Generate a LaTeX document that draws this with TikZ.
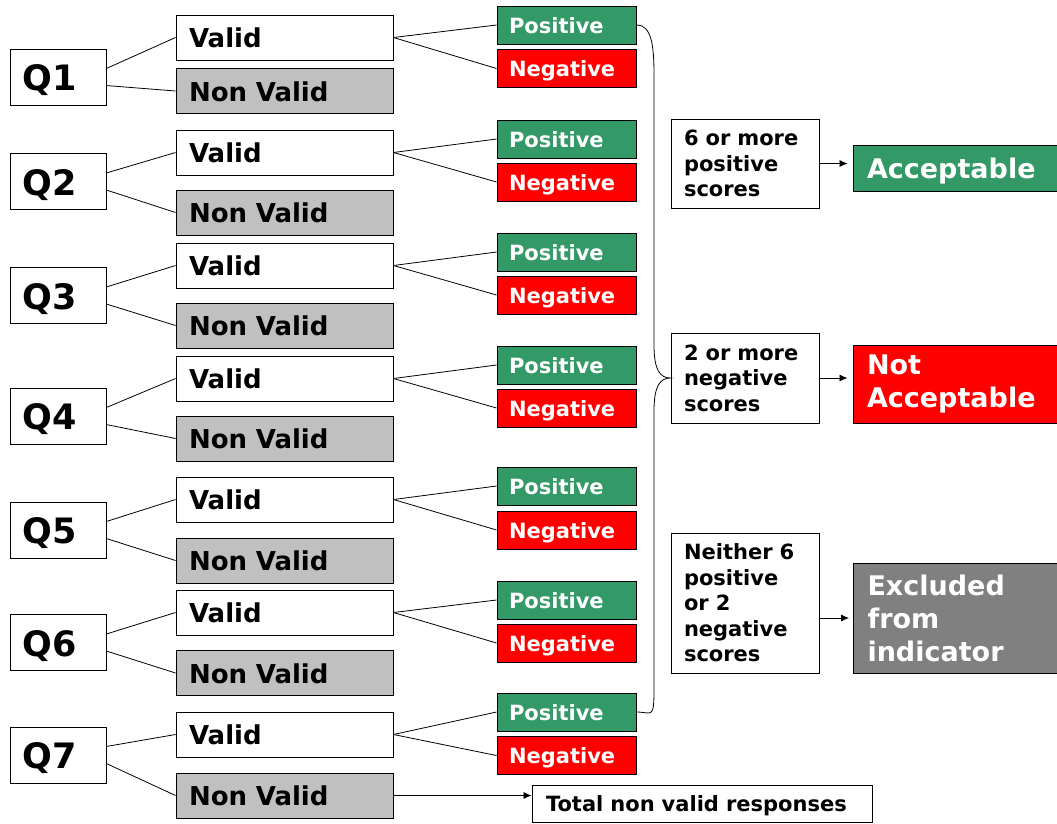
\documentclass[tikz,border=0pt]{standalone}
\usepackage{fontspec}
\setmainfont{DejaVu Sans}
\usetikzlibrary{arrows.meta}
\definecolor{posgreen}{RGB}{51,153,102}
\definecolor{nvgray}{RGB}{192,192,192}
\definecolor{exgray}{RGB}{128,128,128}

\begin{document}
\begin{tikzpicture}[x=1pt, y=-1pt, line width=0.9pt,
  every node/.style={draw, align=left, inner ysep=0pt, font=\bfseries},
  qbox/.style={text height=31pt, text depth=4pt, text width=70pt, inner xsep=13pt, minimum height=56pt, font=\bfseries\fontsize{35}{40}\selectfont},
  vbox/.style={text height=23pt, text depth=2.6pt, text width=191pt, inner xsep=13pt, minimum height=45pt, font=\bfseries\fontsize{26}{30}\selectfont},
  nvbox/.style={vbox, fill=nvgray},
  posbox/.style={text height=18.5pt, text depth=2pt, text width=115pt, inner xsep=12pt, minimum height=38pt, fill=posgreen, text=white, font=\bfseries\fontsize{21}{25}\selectfont},
  negbox/.style={posbox, fill=red},
  rulebox/.style={text width=122pt, inner xsep=13pt, font=\bfseries\fontsize{21}{25.5}\selectfont},
  outbox/.style={text width=178pt, inner xsep=14pt, text=white, font=\bfseries\fontsize{27}{33}\selectfont},
  totbox/.style={text height=18.5pt, text depth=2pt, text width=312pt, inner xsep=14pt, minimum height=37pt, font=\bfseries\fontsize{21}{25}\selectfont},
  link/.style={line width=0.8pt},
  res/.style={-{Latex[length=8pt,width=7pt]}, line width=0.8pt}]
  \useasboundingbox (0,0) rectangle (1057,823);

  % one row per question: Q, valid / non valid, positive / negative
  \foreach \i/\q/\v/\n/\p/\m in {1/77/37.5/91/25/68.5, 2/181.5/152.5/212.5/139/182,
      3/295.5/265.5/325.5/252/295, 4/416/378.5/438.5/365/408, 5/530/499.5/560.5/486/530,
      6/642.5/612.5/673/600/643, 7/755/734.5/795.5/712/755.5} {
    \node[qbox] (Q\i) at (58,\q) {Q\i};
    \node[vbox] (V\i) at (284.5,\v) {Valid};
    \node[nvbox] (N\i) at (284.5,\n) {Non Valid};
    \node[posbox] (P\i) at (566.5,\p) {Positive};
    \node[negbox] (M\i) at (566.5,\m) {Negative};
    \draw[link] (Q\i.10) -- (V\i.west);
    \draw[link] (Q\i.-10) -- (N\i.west);
    \draw[link] (V\i.east) -- (P\i.west);
    \draw[link] (V\i.east) -- (M\i.west);
  }

  % scoring rules and results
  \node[rulebox, minimum height=89pt] (six) at (745,163.5) {6 or more\\positive\\scores};
  \node[rulebox, minimum height=90pt] (two) at (745,378) {2 or more\\negative\\scores};
  \node[rulebox, minimum height=140pt] (nei) at (745,603) {Neither 6\\positive\\or 2\\negative\\scores};
  \node[outbox, text height=24pt, text depth=3pt, fill=posgreen, minimum height=46pt] (acc) at (956,168) {Acceptable};
  \node[outbox, fill=red, minimum height=78pt] (nacc) at (956,384) {Not\\Acceptable};
  \node[outbox, fill=exgray, minimum height=110pt] (exc) at (956.5,618) {Excluded\\from\\indicator};
  \node[totbox] (tot) at (702,803.5) {Total non valid responses};

  \draw[res, shorten >=5pt] (six.east) -- (six.east -| acc.west);
  \draw[res, shorten >=5pt] (two.east) -- (two.east -| nacc.west);
  \draw[res, shorten >=4pt] (nei.east |- exc.west) -- (exc.west);
  \draw[res] (N7.east) -- (N7.east -| tot.west);

  % brace
  \draw[link] (P1.east) .. controls +(15,0) and +(0,-30) .. (654,75) -- (654,345)
    .. controls (654,370) and (660,378) .. (two.west)
    .. controls (660,378) and (654,386) .. (654,411) -- (654,690)
    .. controls +(0,30) and +(15,0) .. (P7.east);
\end{tikzpicture}
\end{document}
